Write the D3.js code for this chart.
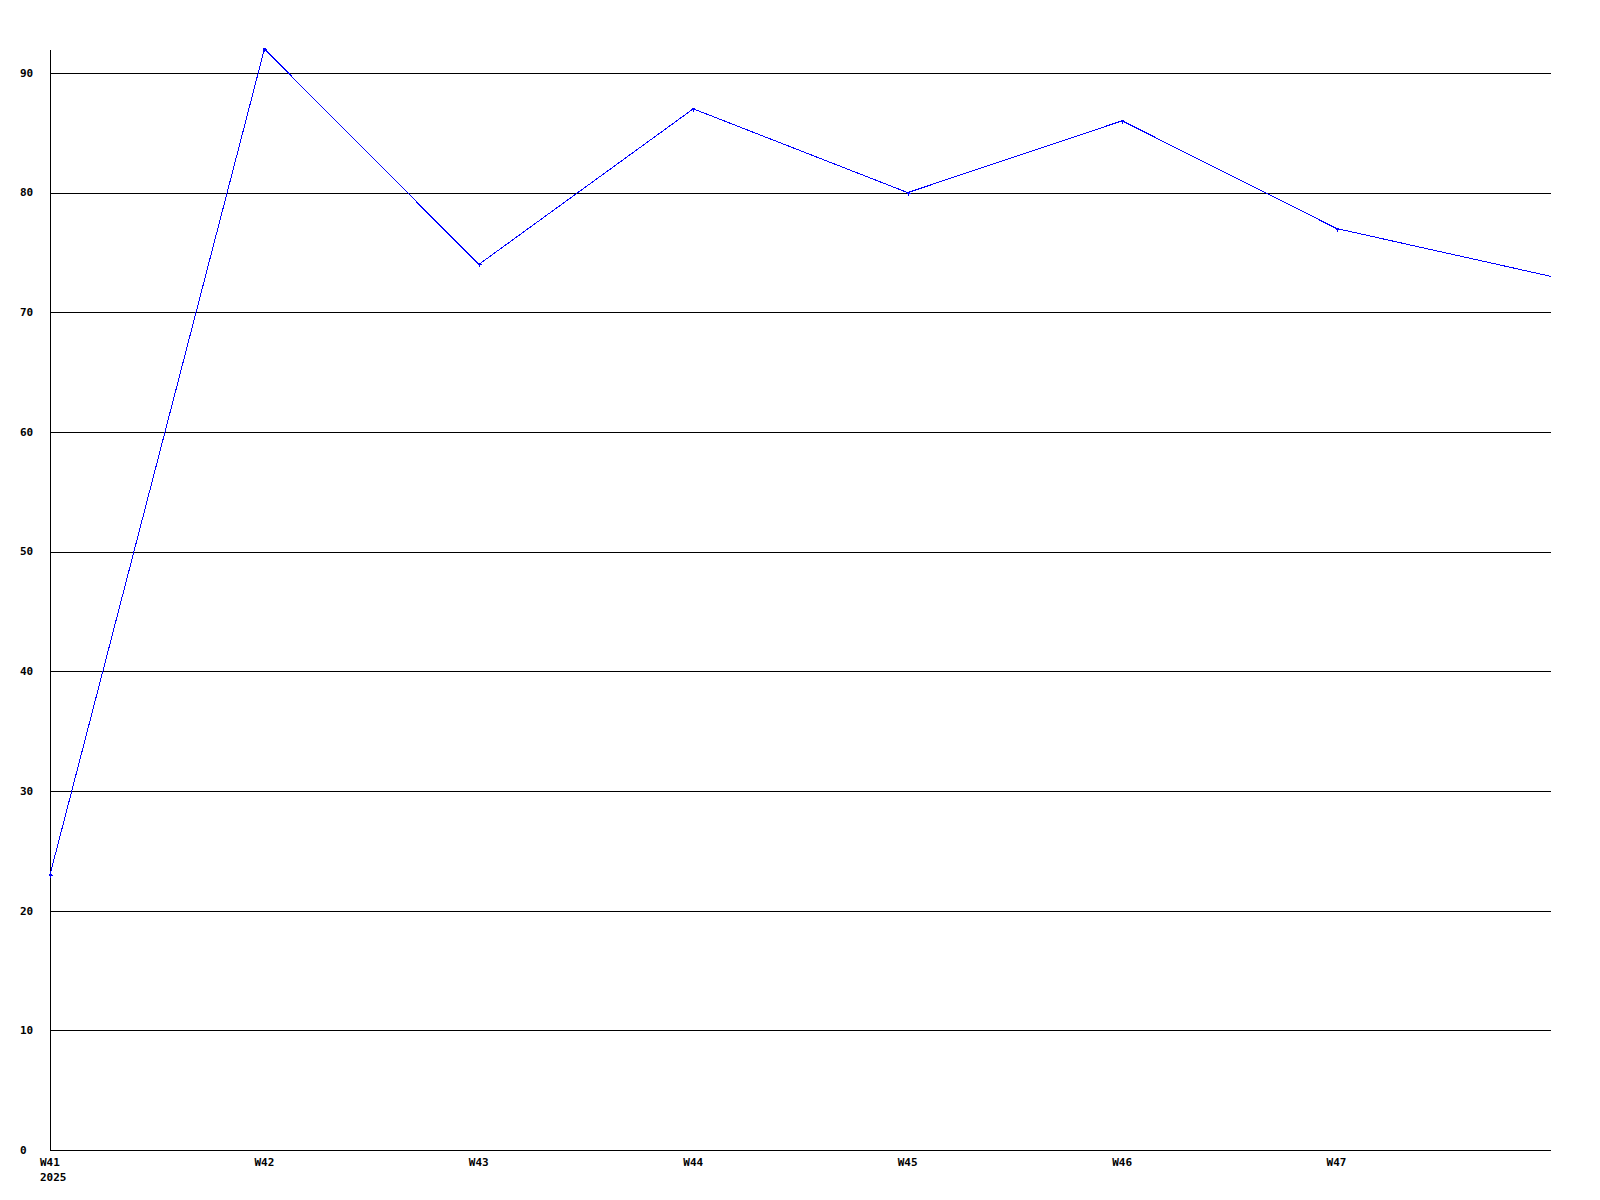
<!DOCTYPE html>
<html lang="en">
<head>
  <meta charset="UTF-8">
  <title>Weekly chart</title>
  <script src="https://d3js.org/d3.v7.min.js"></script>
  <style>
    body { margin: 0; background: #fff; }
    text { font-family: "DejaVu Sans Mono", monospace; font-weight: bold; font-size: 11px; fill: #000; }
  </style>
</head>
<body>
  <div id="chart"></div>
  <script>
    // data
    const weeks = ['W41', 'W42', 'W43', 'W44', 'W45', 'W46', 'W47', 'W48']
    const weekLabels = ['W41', 'W42', 'W43', 'W44', 'W45', 'W46', 'W47', '']
    const values = [23, 92, 74, 87, 80, 86, 77, 73]
    const yTicks = [0, 10, 20, 30, 40, 50, 60, 70, 80, 90]
    const yearLabel = '2025'

    const width = 1600
    const height = 1200
    const margin = { left: 50, right: 1551, top: 49, bottom: 1150 }

    const svg = d3.select('#chart').append('svg')
      .attr('width', width)
      .attr('height', height)
      .style('background', '#fff')

    const x = d3.scalePoint()
      .domain(weeks)
      .range([margin.left, margin.right])

    const y = d3.scaleLinear()
      .domain([0, 92])
      .range([margin.bottom, margin.top])

    // gridlines
    svg.append('g')
      .selectAll('line')
      .data(yTicks)
      .enter().append('line')
      .attr('x1', margin.left)
      .attr('x2', margin.right)
      .attr('y1', d => Math.round(y(d)) + 0.5)
      .attr('y2', d => Math.round(y(d)) + 0.5)
      .attr('stroke', '#000')
      .attr('shape-rendering', 'crispEdges')

    // y axis line
    svg.append('line')
      .attr('x1', margin.left + 0.5).attr('x2', margin.left + 0.5)
      .attr('y1', margin.top + 1).attr('y2', margin.bottom + 1)
      .attr('stroke', '#000')
      .attr('shape-rendering', 'crispEdges')

    // y labels
    svg.append('g')
      .selectAll('text')
      .data(yTicks)
      .enter().append('text')
      .attr('x', 20)
      .attr('y', d => y(d))
      .attr('dy', '0.35em')
      .text(d => d)

    // x labels
    svg.append('g')
      .selectAll('text')
      .data(weeks)
      .enter().append('text')
      .attr('x', d => x(d) - 10)
      .attr('y', 1166)
      .text((d, i) => weekLabels[i])

    svg.append('text')
      .attr('x', x(weeks[0]) - 10)
      .attr('y', 1181)
      .text(yearLabel)

    // series
    const line = d3.line()
      .x((d, i) => x(weeks[i]))
      .y(d => y(d))

    svg.append('path')
      .datum(values)
      .attr('d', line)
      .attr('fill', 'none')
      .attr('stroke', '#0000ff')
      .attr('stroke-width', 1)
      .attr('shape-rendering', 'crispEdges')

    svg.append('g')
      .selectAll('path')
      .data(values.slice(0, 7))
      .enter().append('path')
      .attr('d', (d, i) => {
        const cx = Math.round(x(weeks[i])) + 0.5
        const cy = Math.round(y(d)) + 0.5
        return `M${cx - 2},${cy}L${cx + 2},${cy}M${cx},${cy - 2}L${cx},${cy + 2}M${cx - 1},${cy - 1}L${cx + 1},${cy + 1}M${cx - 1},${cy + 1}L${cx + 1},${cy - 1}`
      })
      .attr('stroke', '#0000ff')
      .attr('shape-rendering', 'crispEdges')
  </script>
</body>
</html>
